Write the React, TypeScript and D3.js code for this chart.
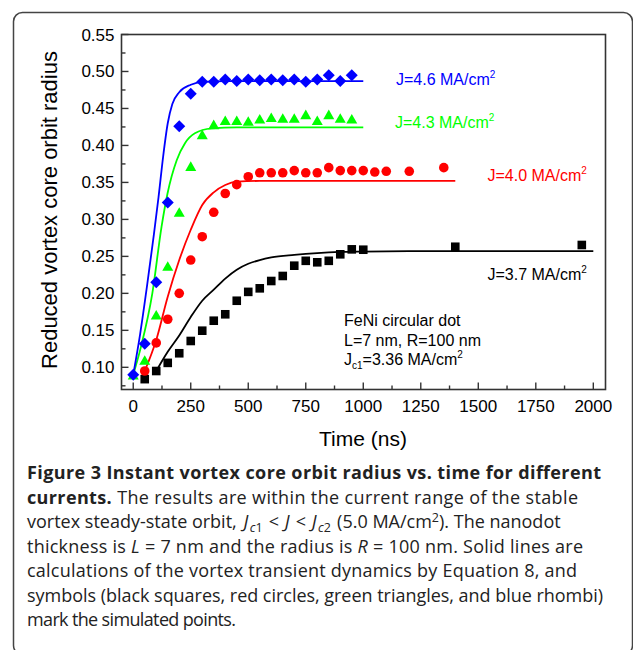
import React from "react";
import * as d3 from "d3";

// ---- data ----
const blueT = [0, 50, 100, 150, 200, 250, 300, 350, 400, 450, 500, 550, 600, 650, 700, 750, 800, 850, 900, 950];
const blueV = [0.090, 0.132, 0.215, 0.323, 0.426, 0.470, 0.486, 0.486, 0.489, 0.487, 0.489, 0.488, 0.489, 0.488, 0.489, 0.486, 0.489, 0.495, 0.487, 0.495];

const greenT = [0, 50, 100, 150, 200, 250, 300, 350, 400, 450, 500, 550, 600, 650, 700, 750, 800, 850, 900, 950];
const greenV = [0.090, 0.110, 0.171, 0.237, 0.310, 0.372, 0.415, 0.4285, 0.434, 0.434, 0.433, 0.436, 0.438, 0.437, 0.437, 0.442, 0.434, 0.442, 0.437, 0.436];

const redT = [50, 100, 150, 200, 250, 300, 350, 400, 450, 500, 550, 600, 650, 700, 750, 800, 850, 900, 950, 1000, 1050, 1100, 1200, 1350];
const redV = [0.095, 0.133, 0.165, 0.200, 0.245, 0.2766, 0.3096, 0.335, 0.347, 0.3577, 0.363, 0.363, 0.363, 0.366, 0.363, 0.363, 0.370, 0.366, 0.366, 0.366, 0.364, 0.365, 0.365, 0.370];

const blackT = [50, 100, 150, 200, 250, 300, 350, 400, 450, 500, 550, 600, 650, 700, 750, 800, 850, 900, 950, 1000, 1400, 1950];
const blackV = [0.084, 0.095, 0.106, 0.119, 0.1356, 0.1495, 0.163, 0.1717, 0.190, 0.202, 0.2068, 0.2167, 0.2235, 0.2374, 0.244, 0.242, 0.244, 0.2528, 0.2595, 0.259, 0.263, 0.2654];

// calculated curves (Equation 8)
const blueCurveT = [0, 30, 60, 90, 110, 130, 150, 170, 200, 250, 300, 400, 1000];
const blueCurveV = [0.090, 0.145, 0.210, 0.280, 0.330, 0.385, 0.430, 0.456, 0.472, 0.482, 0.486, 0.487, 0.487];

const greenCurveT = [0, 33, 83, 123, 149, 189, 225, 268, 341, 450, 1000];
const greenCurveV = [0.090, 0.127, 0.200, 0.290, 0.335, 0.380, 0.403, 0.4164, 0.423, 0.4245, 0.4245];

const redCurveT = [50, 100, 150, 200, 250, 300, 350, 400, 450, 550, 1400];
const redCurveV = [0.095, 0.137, 0.1955, 0.245, 0.286, 0.3195, 0.3366, 0.3465, 0.351, 0.352, 0.352];

const blackCurveT = [100, 150, 200, 250, 300, 350, 400, 450, 500, 550, 600, 700, 800, 900, 1000, 1200, 2000];
const blackCurveV = [0.095, 0.121, 0.143, 0.168, 0.190, 0.205, 0.220, 0.232, 0.240, 0.245, 0.2485, 0.252, 0.2545, 0.256, 0.2565, 0.257, 0.257];

const xTicks = [0, 250, 500, 750, 1000, 1250, 1500, 1750, 2000];
const xMinor = [125, 375, 625, 875, 1125, 1375, 1625, 1875];
const yTicks = [0.10, 0.15, 0.20, 0.25, 0.30, 0.35, 0.40, 0.45, 0.50, 0.55];
const yMinor = [0.075, 0.125, 0.175, 0.225, 0.275, 0.325, 0.375, 0.425, 0.475, 0.525];

const seriesLabels = ["J=4.6 MA/cm", "J=4.3 MA/cm", "J=4.0 MA/cm", "J=3.7 MA/cm"];

const zip = (t: number[], v: number[]) => t.map((d, i) => [d, v[i]] as [number, number]);

export default function App() {
  const W = 633, H = 650;
  const left = 121.5, right = 605.5, top = 34.5, bottom = 389.5;
  const x = d3.scaleLinear().domain([-51, 2053]).range([left, right]);
  const y = d3.scaleLinear().domain([0.07, 0.55]).range([bottom, top]);
  const line = d3.line<[number, number]>().x(d => x(d[0])).y(d => y(d[1])).curve(d3.curveMonotoneX);

  const axisColor = "#333";
  const font = "'Liberation Sans', Arial, sans-serif";
  const capFont = "'Open Sans', sans-serif";

  const diamond = (cx: number, cy: number, r = 6) => `M${cx},${cy - r}L${cx + r},${cy}L${cx},${cy + r}L${cx - r},${cy}Z`;
  const tri = (cx: number, cy: number, s = 11) => {
    const h = s * 0.87;
    return `M${cx},${cy - h / 2}L${cx + s / 2},${cy + h / 2}L${cx - s / 2},${cy + h / 2}Z`;
  };

  return (
    <svg width={W} height={H} style={{ position: "absolute", left: 0, top: 0, background: "#fff" }}>
      <rect x={13.5} y={12.5} width={619} height={642} rx={9} fill="none" stroke="#444" strokeWidth={1.5} />

      {/* axes frame */}
      <rect x={left} y={top} width={right - left} height={bottom - top} fill="none" stroke={axisColor} strokeWidth={1.6} />
      {xTicks.map(t => (
        <g key={"xt" + t}>
          <line x1={x(t)} x2={x(t)} y1={bottom} y2={bottom - 7} stroke={axisColor} strokeWidth={1.4} />
          <text x={x(t)} y={411.5} fontSize={17} fontFamily={font} textAnchor="middle" fill="#000">{t}</text>
        </g>
      ))}
      {xMinor.map(t => (
        <line key={"xm" + t} x1={x(t)} x2={x(t)} y1={bottom} y2={bottom - 4} stroke={axisColor} strokeWidth={1.4} />
      ))}
      {yTicks.map(v => (
        <g key={"yt" + v}>
          <line x1={left} x2={left + 7} y1={y(v)} y2={y(v)} stroke={axisColor} strokeWidth={1.4} />
          <text x={114.5} y={y(v) + 6} fontSize={17} fontFamily={font} textAnchor="end" fill="#000">{v.toFixed(2)}</text>
        </g>
      ))}
      {yMinor.map(v => (
        <line key={"ym" + v} x1={left} x2={left + 4} y1={y(v)} y2={y(v)} stroke={axisColor} strokeWidth={1.4} />
      ))}

      <text transform="translate(57,210) rotate(-90)" fontSize={22} fontFamily={font} textAnchor="middle" fill="#000">Reduced vortex core orbit radius</text>
      <text x={363} y={446} fontSize={21} fontFamily={font} textAnchor="middle" fill="#000">Time (ns)</text>

      {/* curves */}
      <path d={line(zip(blackCurveT, blackCurveV)) || ""} fill="none" stroke="#000" strokeWidth={1.8} />
      <path d={line(zip(redCurveT, redCurveV)) || ""} fill="none" stroke="#ff0000" strokeWidth={1.8} />
      <path d={line(zip(greenCurveT, greenCurveV)) || ""} fill="none" stroke="#00ff00" strokeWidth={1.8} />
      <path d={line(zip(blueCurveT, blueCurveV)) || ""} fill="none" stroke="#0000ff" strokeWidth={1.8} />

      {/* symbols */}
      {zip(blackT, blackV).map((d, i) => (
        <rect key={"b" + i} x={x(d[0]) - 4.3} y={y(d[1]) - 4.3} width={8.6} height={8.6} fill="#000" />
      ))}
      {zip(redT, redV).map((d, i) => (
        <circle key={"r" + i} cx={x(d[0])} cy={y(d[1])} r={4.8} fill="#ff0000" />
      ))}
      {zip(greenT, greenV).map((d, i) => (
        <path key={"g" + i} d={tri(x(d[0]), y(d[1]))} fill="#00ff00" />
      ))}
      {zip(blueT, blueV).map((d, i) => (
        <path key={"bl" + i} d={diamond(x(d[0]), y(d[1]))} fill="#0000ff" />
      ))}

      {/* series labels */}
      {[
        { c: "#0000ff", x: 396, y: 85 },
        { c: "#00ff00", x: 395, y: 127.5 },
        { c: "#ff0000", x: 487.5, y: 180.5 },
        { c: "#000", x: 487.5, y: 279.5 },
      ].map((p, i) => (
        <text key={"lab" + i} x={p.x} y={p.y} fontSize={16} fontFamily={font} fill={p.c}>
          {seriesLabels[i]}
          <tspan fontSize={10} dy={-7}>2</tspan>
        </text>
      ))}

      <text x={344} y={326} fontSize={16} fontFamily={font} fill="#000">FeNi circular dot</text>
      <text x={344} y={345.5} fontSize={16} fontFamily={font} fill="#000">L=7 nm, R=100 nm</text>
      <text x={344} y={365} fontSize={16} fontFamily={font} fill="#000">
        J<tspan fontSize={10} dy={4}>c1</tspan><tspan dy={-4}>=3.36 MA/cm</tspan><tspan fontSize={10} dy={-7}>2</tspan>
      </text>

      {/* caption */}
      <g fontFamily={capFont} fontSize={18} fill="#222">
        <text x={27} y={479} fontWeight={700} textLength={574} lengthAdjust="spacing">Figure 3 Instant vortex core orbit radius vs. time for different</text>
        <text x={27} y={503.5} textLength={551} lengthAdjust="spacing"><tspan fontWeight={700}>currents.</tspan> The results are within the current range of the stable</text>
        <text x={27} y={528}>
          vortex steady-state orbit, <tspan dx={2} fontStyle="italic">J</tspan><tspan dx={1.5} fontStyle="italic" fontSize={12.5} dy={4}>c</tspan><tspan fontSize={12.5}>1</tspan><tspan dx={1.5} dy={-4}> &lt; </tspan><tspan dx={1} fontStyle="italic">J</tspan><tspan dx={1.5}> &lt; </tspan><tspan dx={1} fontStyle="italic">J</tspan><tspan dx={1.5} fontStyle="italic" fontSize={12.5} dy={4}>c</tspan><tspan fontSize={12.5}>2</tspan><tspan dx={1.5} dy={-4}> (5.0 MA/cm</tspan><tspan fontSize={12.5} dy={-6}>2</tspan><tspan dy={6}>). The nanodot</tspan>
        </text>
        <text x={27} y={552.5} textLength={556} lengthAdjust="spacing">
          thickness is <tspan fontStyle="italic">L</tspan> = 7 nm and the radius is <tspan fontStyle="italic">R</tspan> = 100 nm. Solid lines are
        </text>
        <text x={27} y={577} textLength={550} lengthAdjust="spacing">calculations of the vortex transient dynamics by Equation 8, and</text>
        <text x={27} y={601.5} textLength={576} lengthAdjust="spacing">symbols (black squares, red circles, green triangles, and blue rhombi)</text>
        <text x={27} y={626} textLength={209} lengthAdjust="spacing">mark the simulated points.</text>
      </g>
    </svg>
  );
}
